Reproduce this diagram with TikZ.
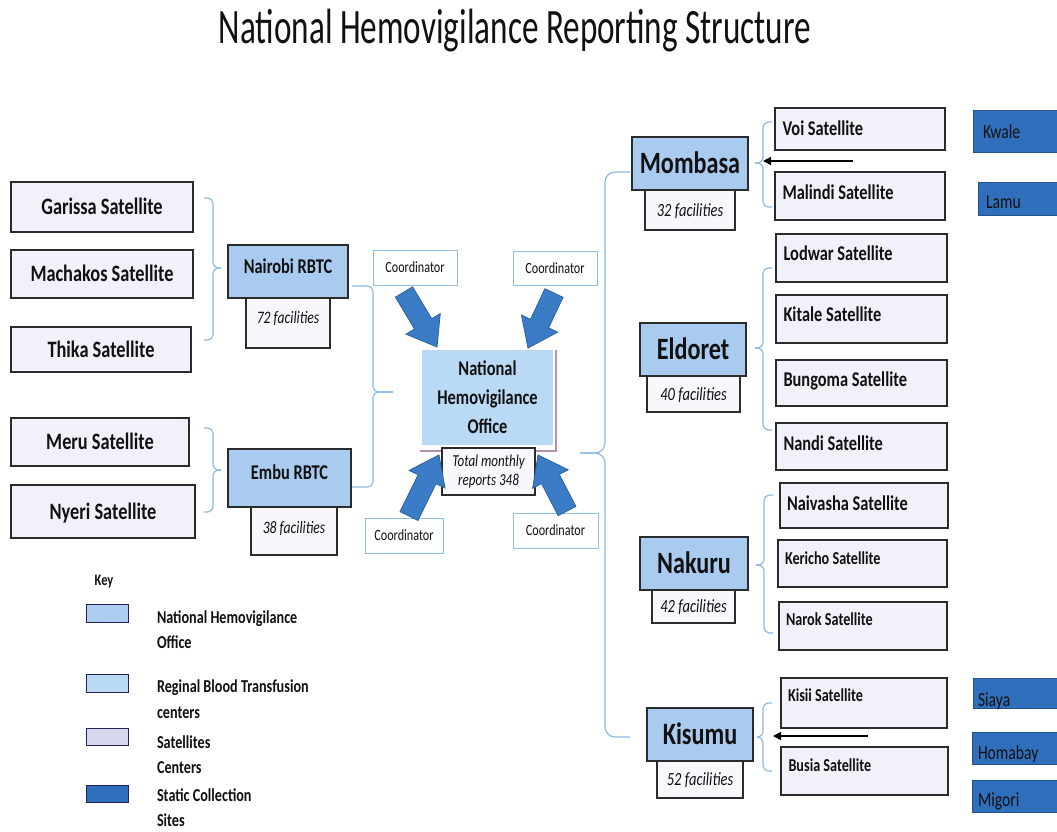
\documentclass[tikz,border=0pt]{standalone}
\usepackage{fontspec}
\setmainfont[FakeStretch=0.78]{Carlito}
\newfontfamily\titlefont[FakeStretch=0.67]{Carlito}
\usetikzlibrary{arrows.meta,calc}

\definecolor{rbtcblue}{HTML}{A9CBEF}
\definecolor{nhoblue}{HTML}{B9D9F5}
\definecolor{keyblue}{HTML}{AECEF1}
\definecolor{satfill}{HTML}{F1F1FA}
\definecolor{facfill}{HTML}{F7F7FC}
\definecolor{sitefill}{HTML}{2F6FBC}
\definecolor{siteline}{HTML}{23538C}
\definecolor{bracecol}{HTML}{8EBAE3}
\definecolor{coordline}{HTML}{8DBEE8}
\definecolor{arrowfill}{HTML}{3B7CC6}
\definecolor{arrowline}{HTML}{2C619F}
\definecolor{nhoedge}{HTML}{B592AC}
\definecolor{keysat}{HTML}{D6D6EC}
\definecolor{boxline}{HTML}{2B2B2B}
\definecolor{inkcol}{HTML}{111111}

% font size in px-sized points
\newcommand\fsz[1]{\fontsize{#1}{#1}\selectfont}
% shift a label up/down without changing its box
\newcommand\lift[2]{\raisebox{#1pt}[\height][\depth]{#2}}
% left-aligned label of a fixed width
\newcommand\lbox[2]{\makebox[#1pt][l]{#2}}
% node spanning the rectangle (x1,y1)-(x2,y2)
\newcommand\boxat[6]{\node[#1, minimum width={(#4)-(#2)}, minimum height={(#5)-(#3)}] (#6) at ({((#2)+(#4))/2},{((#3)+(#5))/2})}
% thick block arrow from tail #1 to tip #2
\newcommand\blockarrow[2]{%
  \coordinate (ba-base) at ($(#2)!27pt!(#1)$);
  \filldraw[bigarrow] ($(#1)!10pt!90:(#2)$) -- ($(ba-base)!10pt!90:(#2)$)
    -- ($(ba-base)!20pt!90:(#2)$) -- (#2) -- ($(ba-base)!20pt!-90:(#2)$)
    -- ($(ba-base)!10pt!-90:(#2)$) -- ($(#1)!10pt!-90:(#2)$) -- cycle;}

\begin{document}
\begin{tikzpicture}[x=1pt,y=-1pt,
  every node/.style={inner sep=0pt, outer sep=0pt, text=inkcol,
    execute at begin node={\spaceskip=0pt\xspaceskip=0pt\relax}},
  boxbase/.style={draw=boxline, line width=1.2pt, align=center},
  leftsat/.style={boxbase, fill=satfill, font=\bfseries\fsz{23.5}, text height=15.1pt, text depth=0pt},
  rbtc/.style={boxbase, fill=rbtcblue, font=\bfseries\fsz{21}, text height=13.5pt, text depth=0pt},
  region/.style={boxbase, fill=rbtcblue, font=\bfseries\fsz{31}, text height=20pt, text depth=0pt},
  facl/.style={boxbase, fill=facfill, font=\itshape\fsz{17.5}, text height=11.3pt, text depth=0pt},
  facr/.style={boxbase, fill=facfill, font=\itshape\fsz{18.6}, text height=12pt, text depth=0pt},
  rsat/.style={boxbase, fill=satfill, font=\bfseries\fsz{21}, text height=13.5pt, text depth=0pt},
  rsatsm/.style={boxbase, fill=satfill, font=\bfseries\fsz{18.2}, text height=11.7pt, text depth=0pt},
  coord/.style={draw=coordline, line width=1pt, fill=white, font=\fsz{15.6}, text height=10pt, text depth=0pt},
  site/.style={draw=siteline, line width=1pt, fill=sitefill, font=\fsz{20}, text height=12.9pt, text depth=0pt},
  nho/.style={fill=nhoblue, align=center, font=\bfseries\fontsize{21}{29}\selectfont},
  total/.style={boxbase, fill=facfill, font=\itshape\fontsize{16.7}{19}\selectfont},
  swatch/.style={draw=boxline!80!blue, line width=1pt},
  keytext/.style={anchor=west, align=left, font=\bfseries\fontsize{18.2}{25.5}\selectfont},
  brace/.style={draw=bracecol, line width=1.2pt, rounded corners=6pt},
  bigarrow/.style={fill=arrowfill, draw=arrowline, line width=0.8pt, line join=miter},
  thinarrow/.style={draw=black, line width=1.5pt, -{Triangle[length=8pt,width=8pt]}}
]
\clip (0,0) rectangle (1057,831);
\fill[white] (0,0) rectangle (1057,831);

% ---- title
\node[font=\titlefont\fsz{49.5}] (title) at (515,31) {National Hemovigilance Reporting Structure};

% ---- western satellites
\boxat{leftsat}{11}{182}{193}{232}{garissa} {Garissa Satellite};
\boxat{leftsat}{11}{250}{193}{298}{machakos} {Machakos Satellite};
\boxat{leftsat}{11}{327}{191}{372}{thika} {Thika Satellite};
\boxat{leftsat}{11}{418}{189}{466}{meru} {Meru Satellite};
\boxat{leftsat}{11}{485}{195}{538}{nyeri} {Nyeri Satellite};

% ---- western RBTCs
\boxat{facl}{246}{298}{330}{348}{nairobifac} {\lift{5}{72 facilities}};
\boxat{rbtc}{228}{245}{348}{298}{nairobi} {\lift{5}{Nairobi RBTC}};
\boxat{facl}{251}{507}{337}{555}{embufac} {\lift{3}{38 facilities}};
\boxat{rbtc}{228}{449}{351}{507}{embu} {\lift{5}{Embu RBTC}};

% braces: satellites -> RBTC
\draw[brace] (204,198) -- (213,198) -- (213,268) -- (221,268);
\draw[brace] (204,340) -- (213,340) -- (213,268) -- (221,268);
\draw[brace] (204,428) -- (213,428) -- (213,470) -- (221,470);
\draw[brace] (204,512) -- (213,512) -- (213,470) -- (221,470);
% brace: RBTCs -> national office
\draw[brace] (352,286) -- (373,286) -- (373,392) -- (393,392);
\draw[brace] (352,487) -- (373,487) -- (373,392) -- (393,392);

% ---- national office
\draw[nhoedge, line width=1.2pt] (556,350) -- (556,451) -- (420,451);
\boxat{nho}{422}{350}{553}{445}{nhoffice} {National\\Hemovigilance\\Office};
\boxat{total}{442}{448}{535}{495}{totalrep} {Total monthly\\reports 348};

% ---- coordinators
\boxat{coord}{373}{250}{457}{285}{coordA} {Coordinator};
\boxat{coord}{513}{251}{597}{285}{coordB} {Coordinator};
\boxat{coord}{365}{518}{443}{553}{coordC} {Coordinator};
\boxat{coord}{513}{513}{598}{548}{coordD} {Coordinator};

\coordinate (aAt) at (404,292); \coordinate (aAp) at (437,347);
\coordinate (aBt) at (554,293); \coordinate (aBp) at (528,348);
\coordinate (aCt) at (409,516); \coordinate (aCp) at (439,455);
\coordinate (aDt) at (567,511); \coordinate (aDp) at (538,455);
\blockarrow{aAt}{aAp}
\blockarrow{aBt}{aBp}
\blockarrow{aCt}{aCp}
\blockarrow{aDt}{aDp}

% ---- brace: national office -> eastern regions
\draw[brace, rounded corners=10pt] (630,172) -- (605,172) -- (605,453) -- (580,453);
\draw[brace, rounded corners=10pt] (630,737) -- (605,737) -- (605,453) -- (580,453);

% ---- regions
\boxat{facr}{645}{190}{735}{230}{mombasafac} {32 facilities};
\boxat{region}{632}{137}{748}{190}{mombasa} {Mombasa};
\boxat{facr}{647}{376}{740}{412}{eldoretfac} {40 facilities};
\boxat{region}{640}{323}{746}{376}{eldoret} {Eldoret};
\boxat{facr}{652}{590}{735}{623}{nakurufac} {42 facilities};
\boxat{region}{640}{537}{748}{590}{nakuru} {Nakuru};
\boxat{facr}{657}{761}{743}{798}{kisumufac} {52 facilities};
\boxat{region}{647}{708}{753}{761}{kisumu} {Kisumu};

% ---- eastern satellites
\boxat{rsat}{775}{108}{945}{150}{voi} {\lbox{155}{Voi Satellite}};
\boxat{rsat}{775}{172}{945}{220}{malindi} {\lift{3}{\lbox{155}{Malindi Satellite}}};
\boxat{rsat}{776}{234}{947}{282}{lodwar} {\lift{4}{\lbox{156}{Lodwar Satellite}}};
\boxat{rsat}{776}{295}{947}{343}{kitale} {\lift{4}{\lbox{156}{Kitale Satellite}}};
\boxat{rsat}{776}{360}{947}{406}{bungoma} {\lift{3}{\lbox{156}{Bungoma Satellite}}};
\boxat{rsat}{776}{423}{947}{470}{nandi} {\lift{3}{\lbox{156}{Nandi Satellite}}};
\boxat{rsat}{780}{483}{948}{528}{naivasha} {\lift{2}{\lbox{154}{Naivasha Satellite}}};
\boxat{rsatsm}{778}{540}{947}{587}{kericho} {\lift{5}{\lbox{155}{Kericho Satellite}}};
\boxat{rsatsm}{779}{602}{947}{650}{narok} {\lift{6}{\lbox{154}{Narok Satellite}}};
\boxat{rsatsm}{781}{678}{947}{728}{kisii} {\lift{7}{\lbox{152}{Kisii Satellite}}};
\boxat{rsatsm}{781}{747}{948}{795}{busia} {\lift{5}{\lbox{152}{Busia Satellite}}};

% braces: regions -> satellites
\draw[brace] (772,122) -- (763,122) -- (763,163) -- (755,163);
\draw[brace] (772,207) -- (763,207) -- (763,163) -- (755,163);
\draw[brace] (772,268) -- (763,268) -- (763,348) -- (755,348);
\draw[brace] (772,430) -- (763,430) -- (763,348) -- (755,348);
\draw[brace] (773,495) -- (764,495) -- (764,565) -- (756,565);
\draw[brace] (773,633) -- (764,633) -- (764,565) -- (756,565);
\draw[brace] (772,703) -- (763,703) -- (763,737) -- (757,737);
\draw[brace] (772,771) -- (763,771) -- (763,737) -- (757,737);

% ---- static collection sites
\boxat{site}{973}{110}{1075}{152}{kwale} {\lift{-1}{\lbox{82}{Kwale}}};
\boxat{site}{978}{182}{1075}{215}{lamu} {\lift{-4}{\lbox{81}{Lamu}}};
\boxat{site}{973}{678}{1075}{708}{siaya} {\lift{-7}{\lbox{92}{Siaya}}};
\boxat{site}{972}{732}{1075}{764}{homabay} {\lift{-5}{\lbox{91}{Homabay}}};
\boxat{site}{972}{780}{1075}{812}{migori} {\lift{-4}{\lbox{91}{Migori}}};

\coordinate (mArrowFrom) at (853,161); \coordinate (mArrowTo) at (763,161);
\draw[thinarrow] (mArrowFrom) -- (mArrowTo);
\coordinate (kArrowFrom) at (868,736); \coordinate (kArrowTo) at (773,736);
\draw[thinarrow] (kArrowFrom) -- (kArrowTo);

% ---- key
\node[font=\bfseries\fsz{16}] (keyhead) at (104,582) {Key};
\boxat{swatch, fill=keyblue}{86}{604}{128}{622}{keyA} {};
\boxat{swatch, fill=nhoblue}{86}{674}{128}{692}{keyB} {};
\boxat{swatch, fill=keysat}{86}{728}{128}{745}{keyC} {};
\boxat{swatch, fill=sitefill}{86}{785}{128}{802}{keyD} {};
\node[keytext] (keyAtext) at (157,629.5) {National Hemovigilance\\Office};
\node[keytext] (keyBtext) at (157,699) {Reginal Blood Transfusion\\centers};
\node[keytext] (keyCtext) at (157,754.5) {Satellites\\Centers};
\node[keytext] (keyDtext) at (157,807.5) {Static Collection\\Sites};
\end{tikzpicture}
\end{document}
